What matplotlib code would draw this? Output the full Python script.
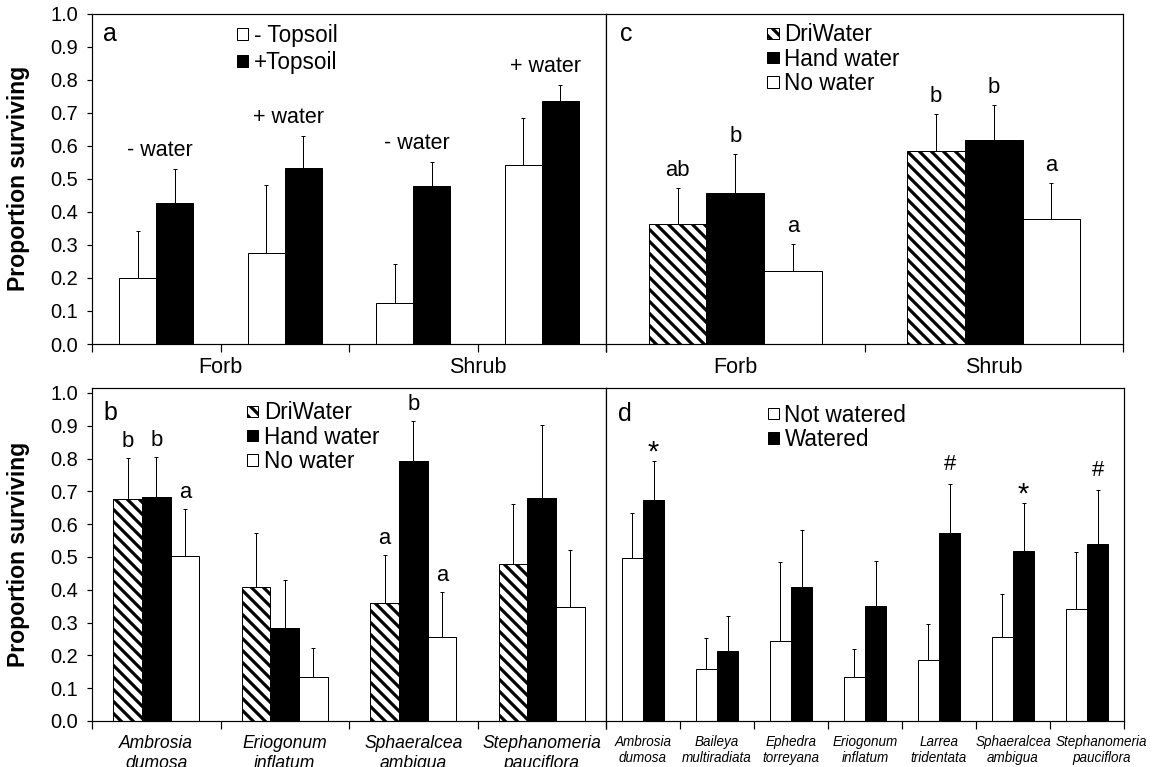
"""
Seedling survival under topsoil and watering treatments (four panels).
"""

import numpy as np
import matplotlib.pyplot as plt
from matplotlib.patches import Patch

plt.rcParams['font.family'] = ['Liberation Sans', 'DejaVu Sans']
plt.rcParams['hatch.linewidth'] = 3.2
plt.rcParams['hatch.color'] = 'black'

# panel a: topsoil x water, by life form
water_a = ['- water', '+ water', '- water', '+ water']
life_forms = ['Forb', 'Shrub']
no_topsoil = [0.200, 0.274, 0.125, 0.542]
no_topsoil_se = [0.141, 0.208, 0.118, 0.141]
with_topsoil = [0.427, 0.532, 0.477, 0.734]
with_topsoil_se = [0.102, 0.096, 0.073, 0.051]

# panel c: watering method, by life form
driwater_c = [0.363, 0.584]
driwater_c_se = [0.108, 0.111]
hand_c = [0.458, 0.617]
hand_c_se = [0.117, 0.107]
nowater_c = [0.221, 0.377]
nowater_c_se = [0.083, 0.110]
letters_c = [['ab', 'b'], ['b', 'b'], ['a', 'a']]

# panel b: watering method, by species
species_b = ['Ambrosia\ndumosa', 'Eriogonum\ninflatum',
             'Sphaeralcea\nambigua', 'Stephanomeria\npauciflora']
driwater_b = [0.678, 0.409, 0.360, 0.478]
driwater_b_se = [0.123, 0.165, 0.145, 0.183]
hand_b = [0.683, 0.284, 0.791, 0.681]
hand_b_se = [0.123, 0.147, 0.123, 0.221]
nowater_b = [0.503, 0.133, 0.257, 0.347]
nowater_b_se = [0.144, 0.090, 0.136, 0.175]
letters_b = [['b', '', 'a', ''], ['b', '', 'b', ''], ['a', '', 'a', '']]

# panel d: watered vs not, by species
species_d = ['Ambrosia\ndumosa', 'Baileya\nmultiradiata', 'Ephedra\ntorreyana',
             'Eriogonum\ninflatum', 'Larrea\ntridentata', 'Sphaeralcea\nambigua',
             'Stephanomeria\npauciflora']
not_watered = [0.497, 0.158, 0.243, 0.133, 0.185, 0.257, 0.342]
not_watered_se = [0.138, 0.096, 0.241, 0.087, 0.110, 0.131, 0.173]
watered = [0.675, 0.212, 0.409, 0.352, 0.572, 0.517, 0.539]
watered_se = [0.117, 0.108, 0.173, 0.136, 0.149, 0.146, 0.164]
symbols_d = ['*', '', '', '', '#', '*', '#']

W, H = 1155, 767
DPI = 72  # one point is one pixel


def box(left, top, right, bottom):
    return [left / W, (H - bottom) / H, (right - left) / W, (bottom - top) / H]


def bars(ax, x, vals, se, width, style):
    vals = np.asarray(vals)
    if style == 'hatch':
        kw = dict(color='white', edgecolor='black', hatch='\\\\')
    elif style == 'black':
        kw = dict(color='black', edgecolor='black')
    else:
        kw = dict(color='white', edgecolor='black')
    ax.bar(x, vals, width, linewidth=1.0, zorder=2, **kw)
    ax.errorbar(x, vals, yerr=[np.zeros_like(vals), se], fmt='none',
                ecolor='black', elinewidth=1.0, capsize=1.8, capthick=1.0, zorder=3)
    return vals + np.asarray(se)


def label_above(ax, x, tops, texts, size, dy):
    for xi, t, s in zip(x, tops, texts):
        if s:
            ax.annotate(s, (xi, t), xytext=(0, dy), textcoords='offset points',
                        ha='center', va='baseline', fontsize=size)


def frame(ax, n, ytop, yticks):
    ax.set_xlim(-0.5, n - 0.5)
    ax.set_ylim(0, ytop)
    for s in ax.spines.values():
        s.set_linewidth(1.2)
    ax.tick_params(axis='x', which='major', direction='out', length=8, width=1.2)
    if yticks:
        ax.set_yticks(np.arange(0, 1.01, 0.1))
        ax.set_yticklabels([f'{v:.1f}' for v in np.arange(0, 1.01, 0.1)])
        ax.tick_params(axis='y', direction='out', length=5, width=1.2,
                       labelsize=20, pad=9)
    else:
        ax.set_yticks([])


def centre_labels(ax, labels, size, pad, spacing, shift_last=0.0):
    n = len(labels)
    ax.set_xticks(np.arange(n + 1) - 0.5)
    ax.set_xticklabels([''] * (n + 1))
    pos = np.arange(n, dtype=float)
    pos[-1] += shift_last
    ax.set_xticks(pos, minor=True)
    ax.set_xticklabels(labels, minor=True, fontsize=size, style='italic',
                       linespacing=spacing)
    ax.tick_params(axis='x', which='minor', length=0, pad=pad)


def legend(ax, handles, labels, x, y, size, spacing):
    ax.legend(handles, labels, loc='upper left', bbox_to_anchor=(x, y),
              frameon=False, fontsize=size, handlelength=0.5, handleheight=0.4,
              handletextpad=0.25, labelspacing=spacing, borderpad=0,
              borderaxespad=0)


def swatch(style):
    if style == 'hatch':
        return Patch(facecolor='white', edgecolor='black', hatch='\\\\', linewidth=1.0)
    if style == 'black':
        return Patch(facecolor='black', edgecolor='black', linewidth=1.0)
    return Patch(facecolor='white', edgecolor='black', linewidth=1.0)


fig = plt.figure(figsize=(W / DPI, H / DPI), dpi=DPI)
ax_a = fig.add_axes(box(92, 13.5, 606, 344))
ax_c = fig.add_axes(box(606, 13.5, 1123, 344))
ax_b = fig.add_axes(box(92, 388, 606, 721))
ax_d = fig.add_axes(box(606, 388, 1124, 721))

# ---- panel a
xa = np.arange(len(water_a))
wa = 0.287
t1 = bars(ax_a, xa - wa / 2, no_topsoil, no_topsoil_se, wa, 'white')
t2 = bars(ax_a, xa + wa / 2, with_topsoil, with_topsoil_se, wa, 'black')
label_above(ax_a, xa + 0.03, np.maximum(t1, t2), water_a, 21.5, 13)
frame(ax_a, len(water_a), 1.0, True)
ax_a.set_xticks(np.arange(len(water_a) + 1) - 0.5)
ax_a.set_xticklabels(['', life_forms[0], '', life_forms[1], ''], fontsize=21.5)
ax_a.tick_params(axis='x', which='major', pad=5)
ax_a.text(0.021, 0.918, 'a', transform=ax_a.transAxes, fontsize=25, va='baseline')
legend(ax_a, [swatch('white'), swatch('black')], ['- Topsoil', '+Topsoil'],
       0.282, 0.968, 22.5, 0.17)

# ---- panel c
xc = np.arange(len(life_forms))
wc = 0.223
tops = [bars(ax_c, xc - wc, driwater_c, driwater_c_se, wc, 'hatch'),
        bars(ax_c, xc, hand_c, hand_c_se, wc, 'black'),
        bars(ax_c, xc + wc, nowater_c, nowater_c_se, wc, 'white')]
for k, off in enumerate([-wc, 0, wc]):
    label_above(ax_c, xc + off, tops[k], letters_c[k], 22, 12)
frame(ax_c, len(life_forms), 1.0, False)
centre_labels(ax_c, life_forms, 21.5, 13, 1.0)
for lab in ax_c.get_xticklabels(minor=True):
    lab.set_style('normal')
ax_c.text(0.027, 0.918, 'c', transform=ax_c.transAxes, fontsize=25, va='baseline')
legend(ax_c, [swatch('hatch'), swatch('black'), swatch('white')],
       ['DriWater', 'Hand water', 'No water'], 0.312, 0.97, 22.5, 0.06)

# ---- panel b
xb = np.arange(len(species_b))
wb = 0.222
tops = [bars(ax_b, xb - wb, driwater_b, driwater_b_se, wb, 'hatch'),
        bars(ax_b, xb, hand_b, hand_b_se, wb, 'black'),
        bars(ax_b, xb + wb, nowater_b, nowater_b_se, wb, 'white')]
for k, off in enumerate([-wb, 0, wb]):
    label_above(ax_b, xb + off, tops[k], letters_b[k], 22, 11)
frame(ax_b, len(species_b), 1.015, True)
centre_labels(ax_b, species_b, 17.5, 14, 1.25)
ax_b.text(0.023, 0.904, 'b', transform=ax_b.transAxes, fontsize=25, va='baseline')
legend(ax_b, [swatch('hatch'), swatch('black'), swatch('white')],
       ['DriWater', 'Hand water', 'No water'], 0.302, 0.96, 22.5, 0.06)

# ---- panel d
xd = np.arange(len(species_d))
wd = 0.288
bars(ax_d, xd - wd / 2, not_watered, not_watered_se, wd, 'white')
td = bars(ax_d, xd + wd / 2, watered, watered_se, wd, 'black')
for xi, t, s in zip(xd + wd / 2, td, symbols_d):
    if s == '#':
        label_above(ax_d, [xi], [t], [s], 22, 14)
    elif s == '*':
        label_above(ax_d, [xi], [t], [s], 29, 1)
frame(ax_d, len(species_d), 1.015, False)
centre_labels(ax_d, species_d, 13.5, 14, 1.2, shift_last=0.2)
ax_d.text(0.023, 0.901, 'd', transform=ax_d.transAxes, fontsize=25, va='baseline')
legend(ax_d, [swatch('white'), swatch('black')], ['Not watered', 'Watered'],
       0.312, 0.953, 22.5, 0.06)

# y-axis titles
for ax in (ax_a, ax_b):
    pos = ax.get_position()
    fig.text(19 / W, pos.y0 + pos.height / 2, 'Proportion surviving', rotation=90,
             ha='center', va='center', fontsize=23, fontweight='bold')

fig.savefig('out.png', dpi=DPI)
